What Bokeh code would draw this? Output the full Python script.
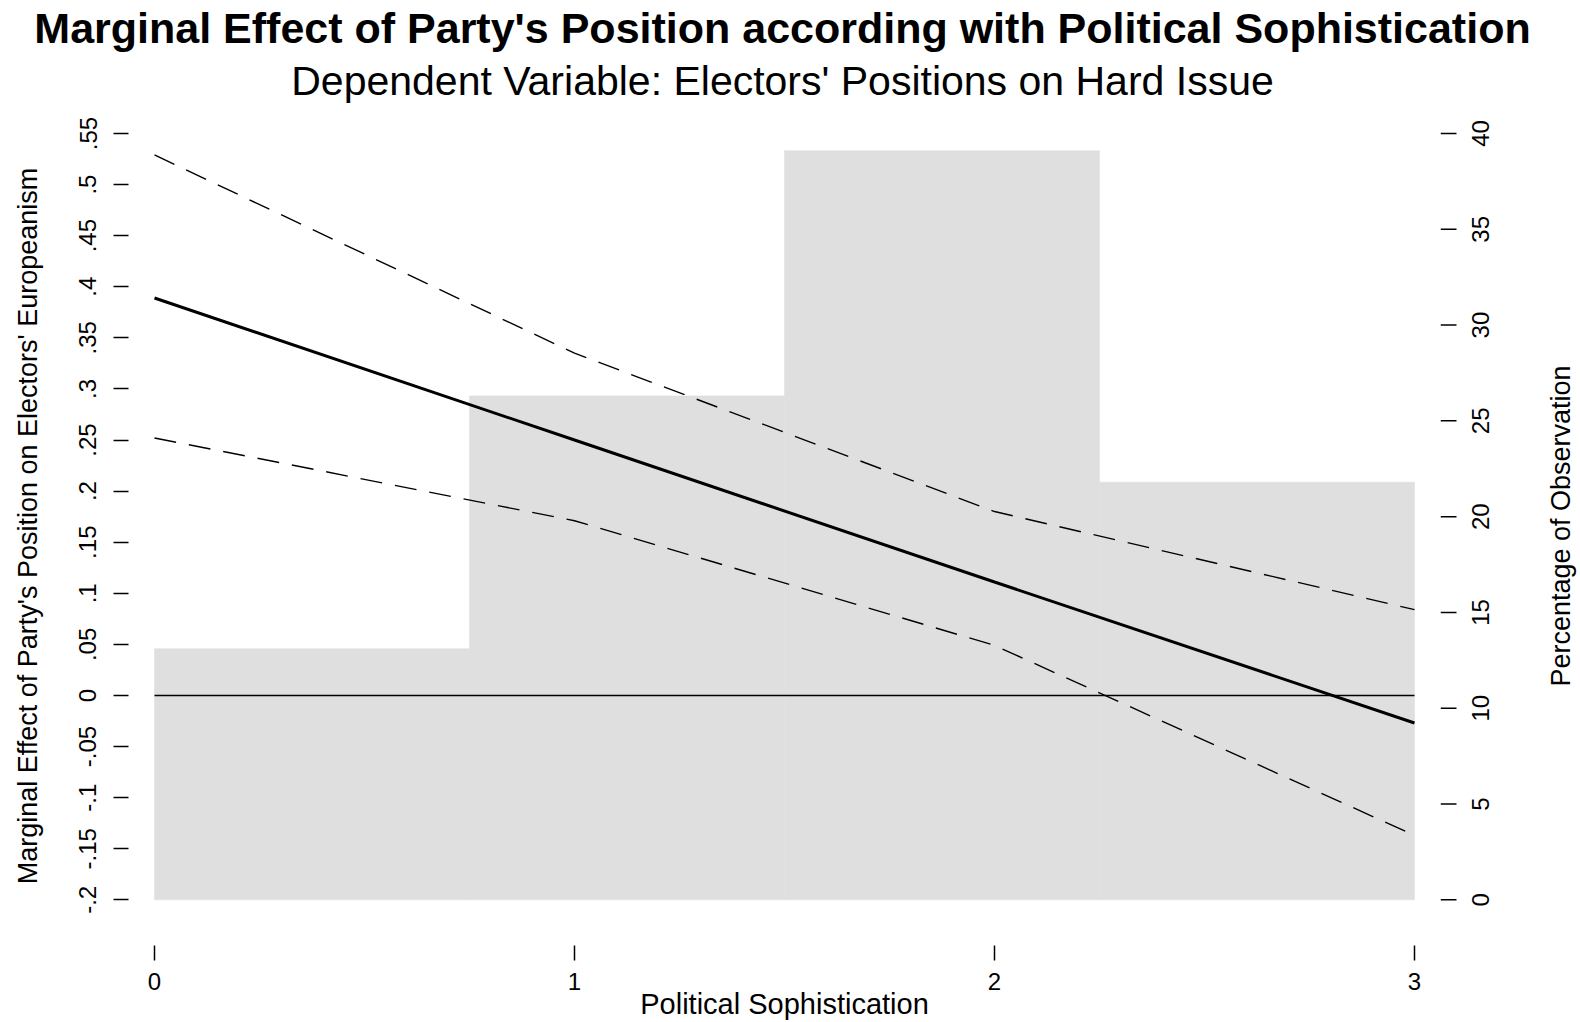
import math

from bokeh.plotting import figure
from bokeh.layouts import row, column
from bokeh.models import Range1d, FixedTicker
from bokeh.core.properties import value
from bokeh.embed import file_html
from bokeh.resources import INLINE

# ---------------------------------------------------------------------------
# Data
# ---------------------------------------------------------------------------
sophistication = [0, 1, 2, 3]
marginal_effect = [0.389, 0.250, 0.111, -0.027]
ci_upper = [0.529, 0.335, 0.180, 0.084]
ci_lower = [0.252, 0.171, 0.049, -0.137]

# histogram of the moderator (percentage of observations per bin)
hist_edges = [0, 0.75, 1.5, 2.25, 3]
hist_pct = [13.1, 26.3, 39.1, 21.8]

effect_ticks = [-0.2, -0.15, -0.1, -0.05, 0, 0.05, 0.1, 0.15, 0.2,
                0.25, 0.3, 0.35, 0.4, 0.45, 0.5, 0.55]
effect_tick_labels = ["-.2", "-.15", "-.1", "-.05", "0", ".05", ".1", ".15", ".2",
                      ".25", ".3", ".35", ".4", ".45", ".5", ".55"]
pct_ticks = [0, 5, 10, 15, 20, 25, 30, 35, 40]
pct_tick_labels = ["0", "5", "10", "15", "20", "25", "30", "35", "40"]
soph_ticks = [0, 1, 2, 3]

title_text = "Marginal Effect of Party's Position according with Political Sophistication"
subtitle_text = "Dependent Variable: Electors' Positions on Hard Issue"
x_title = "Political Sophistication"
y_title = "Marginal Effect of Party's Position on Electors' Europeanism"
y2_title = "Percentage of Observation"

# ---------------------------------------------------------------------------
# Geometry (pixels)
# ---------------------------------------------------------------------------
W, H = 1580, 1022
HEADER_H = 106                     # title band above the plotting frame
FRAME_L, FRAME_R, FRAME_B = 128, 1440, 945
X_PAD = 26.0            # gap between frame edge and the first / last x value
Y_PAD_BOTTOM = 45.7     # gap between frame bottom and the lowest effect tick
Y_PAD_TOP = 27.0        # gap between frame top and the highest effect tick

TITLE_CENTER_X = 782
TITLE_BASELINE = 27
SUBTITLE_BASELINE = 80

# right-hand scale panel (offsets measured from the main frame's right edge)
SIDE_W = W - FRAME_R
SIDE_TICK_LEN = 16
SIDE_LABEL_X = 40
SIDE_TITLE_X = 120

FONT = "Liberation Sans"
TICK_FONT_SIZE = "24px"
AXIS_TITLE_SIZE = "27px"
BAR_GREY = "#dfdfdf"

body_h = H - HEADER_H
frame_w = FRAME_R - FRAME_L
frame_h = FRAME_B - HEADER_H

x_lo, x_hi = sophistication[0], sophistication[-1]
ppu_x = (frame_w - 2 * X_PAD) / (x_hi - x_lo)
x_range = Range1d(x_lo - X_PAD / ppu_x, x_hi + X_PAD / ppu_x)

y_lo, y_hi = effect_ticks[0], effect_ticks[-1]
ppu_y = (frame_h - Y_PAD_BOTTOM - Y_PAD_TOP) / (y_hi - y_lo)
y_start = y_lo - Y_PAD_BOTTOM / ppu_y
y_end = y_hi + Y_PAD_TOP / ppu_y
y_range = Range1d(y_start, y_end)

# percentage scale shares the same vertical span (0..40 <-> -.2...55)
pct_lo, pct_hi = pct_ticks[0], pct_ticks[-1]
to_pct = lambda v: pct_lo + (v - y_lo) * (pct_hi - pct_lo) / (y_hi - y_lo)
pct_range = Range1d(to_pct(y_start), to_pct(y_end))


def blank(fig):
    fig.outline_line_color = None
    fig.background_fill_color = "white"
    fig.border_fill_color = "white"
    fig.xgrid.visible = False
    fig.ygrid.visible = False


# ---------------------------------------------------------------------------
# Title band
# ---------------------------------------------------------------------------
header = figure(
    width=W, height=HEADER_H,
    x_range=Range1d(0, W), y_range=Range1d(HEADER_H, 0),
    title=None, x_axis_location=None, y_axis_location=None,
    output_backend="svg", toolbar_location=None,
    min_border=0,
)
blank(header)
header.text(x=[TITLE_CENTER_X], y=[TITLE_BASELINE], text=[title_text],
            text_align="center", text_baseline="alphabetic",
            text_font=value(FONT), text_font_size=value("43px"),
            text_font_style="bold", text_color="black")
header.text(x=[TITLE_CENTER_X], y=[SUBTITLE_BASELINE], text=[subtitle_text],
            text_align="center", text_baseline="alphabetic",
            text_font=value(FONT), text_font_size=value("41px"),
            text_color="black")

# ---------------------------------------------------------------------------
# Main plot
# ---------------------------------------------------------------------------
p = figure(
    width=FRAME_R, height=body_h,
    x_range=x_range, y_range=y_range,
    title=None,
    output_backend="svg", toolbar_location=None,
    min_border_left=FRAME_L, min_border_right=0,
    min_border_top=0, min_border_bottom=H - FRAME_B,
)
p.extra_y_ranges = {"pct": pct_range}
blank(p)


def style_axis(ax):
    ax.axis_line_color = None
    ax.major_tick_in = 0
    ax.major_tick_out = 15
    ax.minor_tick_in = 0
    ax.minor_tick_out = 0
    ax.major_tick_line_color = "black"
    ax.major_tick_line_width = 1.5
    ax.major_label_text_font = FONT
    ax.major_label_text_font_size = TICK_FONT_SIZE
    ax.major_label_text_color = "black"
    ax.axis_label_text_font = FONT
    ax.axis_label_text_font_style = "normal"
    ax.axis_label_text_color = "black"


# bottom axis
xa = p.xaxis[0]
style_axis(xa)
xa.ticker = FixedTicker(ticks=soph_ticks)
xa.major_label_standoff = 12
xa.axis_label = x_title
xa.axis_label_text_font_size = "29px"
xa.axis_label_standoff = -5

# left axis
ya = p.yaxis[0]
style_axis(ya)
ya.ticker = FixedTicker(ticks=effect_ticks)
ya.major_label_overrides = dict(zip(effect_ticks, effect_tick_labels))
ya.major_label_orientation = "parallel"
ya.major_label_standoff = 17
ya.axis_label = y_title
ya.axis_label_text_font_size = AXIS_TITLE_SIZE
ya.axis_label_standoff = 34

# histogram bars (outlined in the fill colour so neighbouring bins join seamlessly)
p.quad(left=hist_edges[:-1], right=hist_edges[1:], bottom=pct_lo, top=hist_pct,
       y_range_name="pct", fill_color=BAR_GREY, line_color=BAR_GREY, line_width=0.6)

# zero reference line over the observed range
p.segment(x0=[x_lo], y0=[0], x1=[x_hi], y1=[0], line_color="black", line_width=1.5)

# confidence bounds
p.line(sophistication, ci_upper, line_color="black", line_width=1.4, line_dash="22 13")
p.line(sophistication, ci_lower, line_color="black", line_width=1.4, line_dash="22 13")

# marginal effect
p.line(sophistication, marginal_effect, line_color="black", line_width=3)

# ---------------------------------------------------------------------------
# Right-hand percentage scale (labels read bottom-to-top)
# ---------------------------------------------------------------------------
side = figure(
    width=SIDE_W, height=body_h,
    x_range=Range1d(0, SIDE_W), y_range=pct_range,
    title=None, x_axis_location=None, y_axis_location=None,
    output_backend="svg", toolbar_location=None,
    min_border_left=0, min_border_right=0,
    min_border_top=0, min_border_bottom=H - FRAME_B,
)
blank(side)

n_pct = len(pct_ticks)
side.segment(x0=[0] * n_pct, y0=pct_ticks, x1=[SIDE_TICK_LEN] * n_pct, y1=pct_ticks,
             line_color="black", line_width=1.5)
side.text(x=[SIDE_LABEL_X] * n_pct, y=pct_ticks, text=pct_tick_labels,
          angle=math.pi / 2, text_align="center", text_baseline="middle",
          text_font=value(FONT), text_font_size=value(TICK_FONT_SIZE), text_color="black")
side.text(x=[SIDE_TITLE_X], y=[(pct_range.start + pct_range.end) / 2], text=[y2_title],
          angle=math.pi / 2, text_align="center", text_baseline="middle",
          text_font=value(FONT), text_font_size=value(AXIS_TITLE_SIZE), text_color="black")

layout = column(header, row(p, side, spacing=0), spacing=0)

open("out.html", "w").write(file_html(layout, INLINE))
